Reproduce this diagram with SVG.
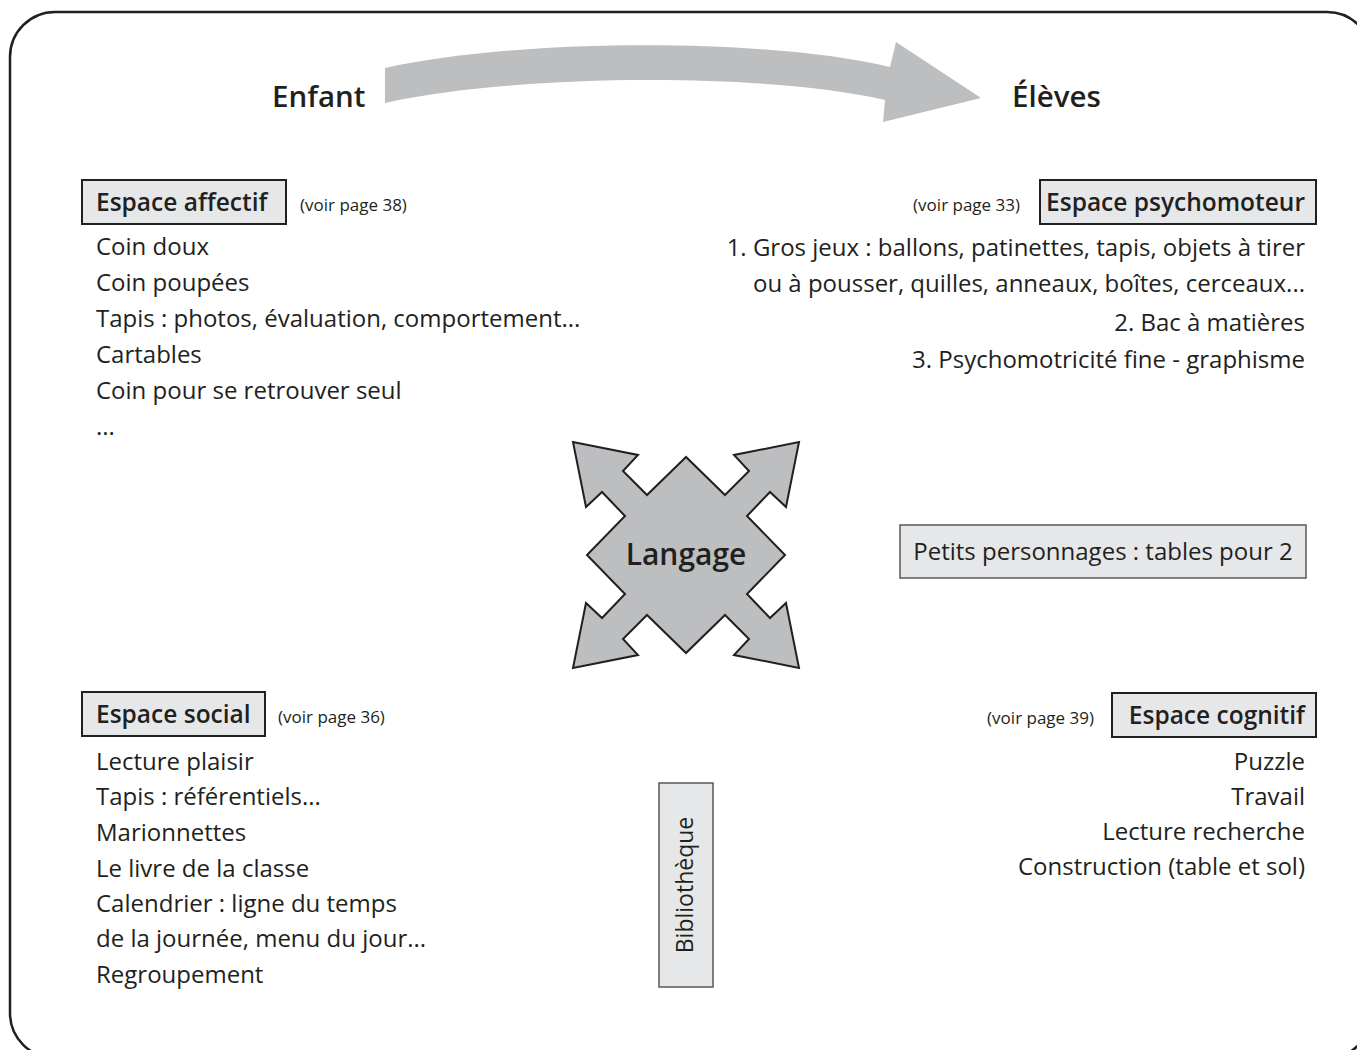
<svg xmlns="http://www.w3.org/2000/svg" width="1357" height="1050" viewBox="0 0 1357 1050">
<style>
text{font-family:"Open Sans","Liberation Sans",sans-serif;fill:#231f20}
.t{font-size:24px}
.h{font-size:24.5px;font-weight:600}
.v{font-size:17px}
.big{font-size:29.5px;font-weight:600}
.hb{fill:#e6e7e8;stroke:#231f20;stroke-width:2}
.lb{fill:#e6e7e8;stroke:#58595b;stroke-width:1.5}
.e{text-anchor:end}
</style>
<rect x="10" y="12" width="1362" height="1046" rx="45" ry="45" fill="#fff" stroke="#231f20" stroke-width="2.5"/>
<g id="flow">
<path d="M385,68 C520,38 770,38 890,67 L896,42 L981,98 L883,122 L885,100 C770,73 520,73 385,103 Z" fill="#bcbec0"/>
<text class="big" x="272" y="107">Enfant</text>
<text class="big" x="1012" y="107">Élèves</text>
</g>
<g id="affectif">
<rect class="hb" x="82" y="180" width="204" height="44"/>
<text class="h" x="96" y="211">Espace affectif</text>
<text class="v" x="300" y="211">(voir page 38)</text>
<text class="t" x="96" y="255">Coin doux</text>
<text class="t" x="96" y="291">Coin poupées</text>
<text class="t" x="96" y="327">Tapis : photos, évaluation, comportement...</text>
<text class="t" x="96" y="363">Cartables</text>
<text class="t" x="96" y="399">Coin pour se retrouver seul</text>
<text class="t" x="96" y="435">...</text>
</g>
<g id="psychomoteur">
<rect class="hb" x="1040" y="180" width="276" height="44"/>
<text class="h e" x="1305" y="211">Espace psychomoteur</text>
<text class="v e" x="1020" y="211">(voir page 33)</text>
<text class="t e" x="1305" y="256">1. Gros jeux : ballons, patinettes, tapis, objets à tirer</text>
<text class="t e" x="1305" y="292">ou à pousser, quilles, anneaux, boîtes, cerceaux...</text>
<text class="t e" x="1305" y="331">2. Bac à matières</text>
<text class="t e" x="1305" y="368">3. Psychomotricité fine - graphisme</text>
</g>
<g id="langage">
<path d="M686,457 L647,495 L623,471 L638,455 L573,442 L586,507 L602,492 L625,516 L587,555 L625,594 L602,618 L586,603 L573,668 L638,655 L623,639 L647,615 L686,653 L725,615 L749,639 L734,655 L799,668 L786,603 L770,618 L747,594 L785,555 L747,516 L770,492 L786,507 L799,442 L734,455 L749,471 L725,495 Z" fill="#bcbec0" stroke="#231f20" stroke-width="2" stroke-linejoin="miter"/>
<text x="686" y="565" text-anchor="middle" style="font-size:30px;font-weight:600">Langage</text>
</g>
<g id="petits">
<rect class="lb" x="900" y="525" width="406" height="53"/>
<text class="t" x="1103" y="560" text-anchor="middle">Petits personnages : tables pour 2</text>
</g>
<g id="social">
<rect class="hb" x="82" y="692" width="183" height="44"/>
<text class="h" x="96" y="723">Espace social</text>
<text class="v" x="278" y="723">(voir page 36)</text>
<text class="t" x="96" y="770">Lecture plaisir</text>
<text class="t" x="96" y="805">Tapis : référentiels...</text>
<text class="t" x="96" y="841">Marionnettes</text>
<text class="t" x="96" y="877">Le livre de la classe</text>
<text class="t" x="96" y="912">Calendrier : ligne du temps</text>
<text class="t" x="96" y="947">de la journée, menu du jour...</text>
<text class="t" x="96" y="983">Regroupement</text>
</g>
<g id="cognitif">
<rect class="hb" x="1112" y="693" width="204" height="44"/>
<text class="h e" x="1305" y="724">Espace cognitif</text>
<text class="v e" x="1094" y="724">(voir page 39)</text>
<text class="t e" x="1305" y="770">Puzzle</text>
<text class="t e" x="1305" y="805">Travail</text>
<text class="t e" x="1305" y="840">Lecture recherche</text>
<text class="t e" x="1305" y="875">Construction (table et sol)</text>
</g>
<g id="bibliotheque">
<rect class="lb" x="659" y="783" width="54" height="204"/>
<text x="693" y="885" text-anchor="middle" transform="rotate(-90 693 885)" style="font-size:23px">Bibliothèque</text>
</g>
<g id="connectors"></g>
</svg>
